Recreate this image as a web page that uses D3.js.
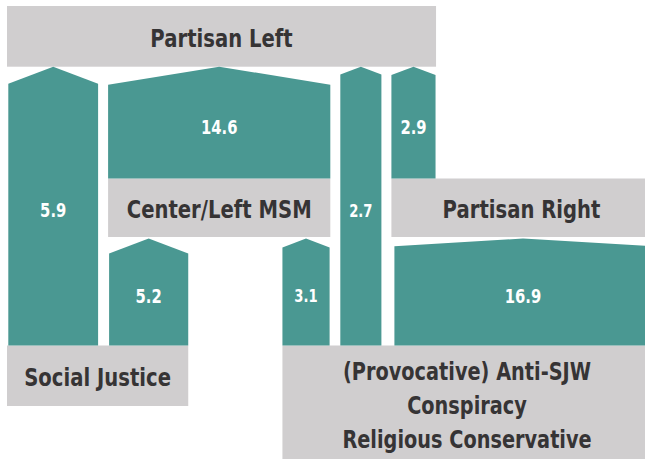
<!DOCTYPE html>
<html>
<head>
<meta charset="utf-8">
<script src="https://cdn.jsdelivr.net/npm/d3@7"></script>
<style>
  html, body { margin: 0; padding: 0; background: #fff; }
  svg { display: block; }
  .lbl { font-family: "DejaVu Sans", "Liberation Sans", sans-serif; font-weight: bold; }
</style>
</head>
<body>
<div id="chart"></div>
<script>
// groups, flows between them (from -> to) and flow sizes
const groups = ["Partisan Left", "Center/Left MSM", "Partisan Right", "Social Justice",
  "(Provocative) Anti-SJW|Conspiracy|Religious Conservative"];
const groupLevel = [0, 1, 1, 2, 2];
const flowFrom = [3, 1, 4, 2, 3, 4, 4];
const flowTo   = [0, 0, 0, 0, 1, 1, 2];
const flowValues = [5.9, 14.6, 2.7, 2.9, 5.2, 3.1, 16.9];

const W = 645, H = 459;
const teal = "#4a9892", grey = "#d0cecf", ink = "#363435";
const sxGroup = 0.785, sxVal = 0.74; // squeeze text to look like a condensed face

const svg = d3.select("#chart").append("svg")
  .attr("width", W).attr("height", H);

// width of a flow is proportional to its value
const wScale = d3.scaleLinear().domain([0, 1]).range([0, 15.22]);
const rowY = d3.scaleOrdinal().domain([0, 1, 2]).range([6, 178.5, 345.5]);
const rowH = d3.scaleOrdinal().domain([0, 1, 2]).range([60.7, 58.5, 60.5]);
const gap = 10, startX = 8.3;

let flows = flowValues.map((v, i) => ({from: flowFrom[i], to: flowTo[i], value: v, w: wScale(v)}));
let nodes = groups.map((g, i) => ({name: g, lines: g.split("|"), level: groupLevel[i]}));

// top level: incoming flows packed from the left
let cx = startX;
let into0 = flows.filter(f => f.to === 0);
into0.forEach(f => { f.x = cx; cx += f.w + gap; });
let topNode = nodes[0];
topNode.x0 = into0[0].x - 1.3;
topNode.x1 = into0[into0.length - 1].x + into0[into0.length - 1].w + 0.5;

// middle level: box spans outgoing flow, incoming flows pushed to the sides
nodes.forEach((n, i) => {
  if (n.level !== 1) return;
  let out = flows.filter(f => f.from === i);
  let inn = flows.filter(f => f.to === i);
  n.x0 = d3.min(out, f => f.x);
  n.x1 = d3.max(out, f => f.x + f.w);
  let need = n.x0 + 3 + d3.sum(inn, f => f.w);
  if (need > n.x1) n.x1 = need;
  if (inn.length === 1) {
    inn[0].x = n.x1 - inn[0].w;
  } else {
    inn[0].x = n.x0 + 1;
    inn[inn.length - 1].x = n.x1 - 0.7 - inn[inn.length - 1].w;
  }
});

// bottom level: box spans all of its outgoing flows
nodes.forEach((n, i) => {
  if (n.level !== 2) return;
  let out = flows.filter(f => f.from === i);
  n.x0 = d3.min(out, f => f.x) - (i === 3 ? 1.3 : 0);
  n.x1 = d3.max(out, f => f.x + f.w);
});

nodes.forEach(n => {
  n.y0 = rowY(n.level);
  n.y1 = n.lines.length > 1 ? H + 4 : n.y0 + rowH(n.level);
});

// boxes
svg.append("g").selectAll("rect").data(nodes).join("rect")
  .attr("x", d => d.x0).attr("y", d => d.y0)
  .attr("width", d => d.x1 - d.x0).attr("height", d => d.y1 - d.y0)
  .attr("fill", grey);

// arrows
const head = w => w > 240 ? w * 0.03 : Math.min(w * 0.19, 18);
flows.forEach(f => {
  f.yTip = nodes[f.to].y1 + (f.to === 0 ? 0 : 1.5);
  f.yBot = nodes[f.from].y0;
  f.h = head(f.w);
});
svg.append("g").selectAll("path").data(flows).join("path")
  .attr("d", f => {
    let p = d3.path();
    p.moveTo(f.x, f.yBot);
    p.lineTo(f.x, f.yTip + f.h);
    p.lineTo(f.x + f.w / 2, f.yTip);
    p.lineTo(f.x + f.w, f.yTip + f.h);
    p.lineTo(f.x + f.w, f.yBot);
    p.closePath();
    return p.toString();
  })
  .attr("fill", teal);

// value labels
const valSize = f => (f.from === 4 && f.w < 60) ? 17.8 : 20;
svg.append("g").selectAll("text").data(flows).join("text")
  .attr("class", "lbl")
  .attr("text-anchor", "middle")
  .attr("fill", "#fff")
  .attr("font-size", valSize)
  .attr("transform", f => {
    let cy = (f.yTip + f.yBot) / 2 + 4 + valSize(f) * 0.365;
    return `translate(${f.x + f.w / 2},${cy}) scale(${sxVal},1)`;
  })
  .text(f => f.value.toFixed(1));

// group labels
const fsGroup = 25, lineH = 33.8;
let gl = svg.append("g").selectAll("text").data(nodes).join("text")
  .attr("class", "lbl")
  .attr("text-anchor", "middle")
  .attr("fill", ink)
  .attr("font-size", d => d.lines.length > 1 ? 24.6 : fsGroup)
  .attr("transform", d => {
    let cxN = (d.x0 + d.x1) / 2;
    let base = d.lines.length > 1 ? d.y0 + 34.5 : (d.y0 + d.y1) / 2 + fsGroup * 0.365 + 1.5;
    return `translate(${cxN},${base}) scale(${sxGroup},1)`;
  });
gl.selectAll("tspan").data(d => d.lines).join("tspan")
  .attr("x", 0)
  .attr("dy", (t, i) => i === 0 ? 0 : lineH)
  .text(t => t);
</script>
</body>
</html>
